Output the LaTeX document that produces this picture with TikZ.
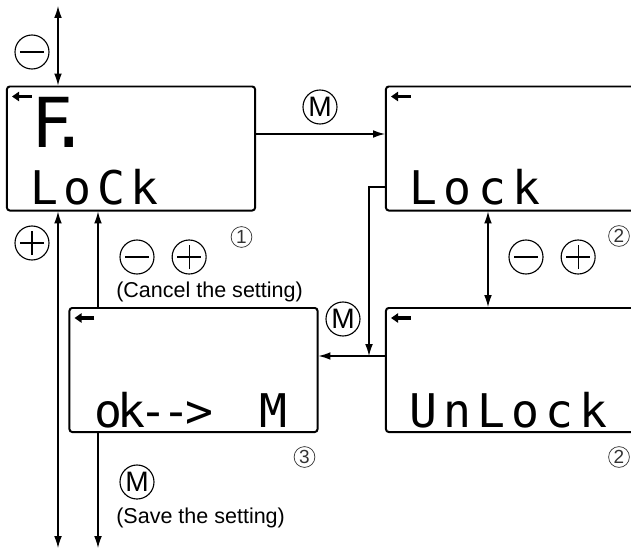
\documentclass[tikz,border=0pt]{standalone}
\usepackage{fontspec}
\setmainfont{Liberation Sans}
\newfontfamily\lcdfont{DejaVu Sans Mono}
\usetikzlibrary{arrows.meta, positioning, calc}
\newcommand{\spaced}[2]{{\addfontfeatures{LetterSpace=#1}#2}}
\tikzset{
    lcd/.style={
        draw,
        line width=1.4pt,
        rounded corners=2pt,
        minimum width=6.2cm,
        minimum height=3.1cm,
        inner sep=0pt
    },
    widelcd/.style={lcd, minimum width=6.5cm},
    line/.style={-{Latex[length=8.5pt, width=5.5pt]}, line width=0.9pt},
    twoway/.style={{Latex[length=8.5pt, width=5.5pt]}-{Latex[length=8.5pt, width=5.5pt]}, line width=0.9pt},
    btn/.style={draw, circle, line width=0.8pt, minimum size=0.85cm, inner sep=0pt},
    minusbtn/.style={btn, path picture={
        \draw[line width=0.8pt] ([xshift=-0.3cm]path picture bounding box.center) -- ([xshift=0.3cm]path picture bounding box.center);}},
    plusbtn/.style={btn, path picture={
        \draw[line width=0.8pt] ([xshift=-0.3cm]path picture bounding box.center) -- ([xshift=0.3cm]path picture bounding box.center);
        \draw[line width=0.8pt] ([yshift=-0.3cm]path picture bounding box.center) -- ([yshift=0.3cm]path picture bounding box.center);}},
    mbtn/.style={btn, font=\fontsize{20}{20}\selectfont},
    seg/.style={font=\lcdfont\fontsize{33}{33}\selectfont, inner sep=0pt, anchor=base west},
    bigseg/.style={seg, font=\lcdfont\fontsize{49}{49}\selectfont},
    icon/.style={line width=2.5pt, -{Triangle[length=5pt, width=6.5pt]}},
    circnum/.style={draw, circle, line width=0.5pt, minimum size=0.52cm, inner sep=0pt,
        text=black!80, draw=black!80, font=\fontsize{13.5}{13.5}\selectfont},
    note/.style={font=\fontsize{15.3}{18}\selectfont, inner sep=0pt, anchor=west}
}
\begin{document}
\begin{tikzpicture}[x=0.025cm, y=-0.025cm]
\useasboundingbox (0,0) rectangle (631,552);
\clip (0,0) rectangle (631,552);

% displays
\node[lcd] (lockF) at (131,148.5) {};
\node[widelcd] (lock) at (516,148.5) {};
\node[widelcd] (unlock) at (516,370) {};
\node[lcd] (confirm) at (193.5,370) {};

% back icons
\foreach \d in {lockF, lock, unlock, confirm}
    \draw[icon] ($(\d.north west)+(26,11)$) -- ($(\d.north west)+(6,11)$);

% display texts
\node[bigseg] (txtF) at (31,147) {\spaced{-35}{F.}};
\node[seg] (txtA) at (30,204) {\spaced{12}{LoCk}};
\node[seg] (txtB) at (409,204) {\spaced{14}{Lock}};
\node[seg] (txtC) at (409,427) {\spaced{13}{UnLock}};
\node[seg] (txtD) at (94,427) {\spaced{-11}{ok-{}-{}>~~M}};

% free ends
\coordinate (topend) at (58,6);
\coordinate (bottomL) at (58,548);
\coordinate (bottomR) at (98,548);
\coordinate (join) at (369,356);

% connectors
\draw[twoway] (topend) -- (topend |- lockF.north);
\draw[line] ([yshift=0.3625cm]lockF.east) -- ([yshift=0.3625cm]lock.west);
\draw[line] ([yshift=-0.9625cm]lock.west) -| (join);
\draw[line] ([yshift=0.35cm]unlock.west) -- ([yshift=0.35cm]confirm.east);
\draw[twoway] ([xshift=-0.7cm]lock.south) -- ([xshift=-0.7cm]unlock.north);
\draw[twoway] (bottomL |- lockF.south) -- (bottomL);
\draw[line] (bottomR |- confirm.north) -- (bottomR |- lockF.south);
\draw[line] (bottomR |- confirm.south) -- (bottomR);

% keys
\node[minusbtn] (minusA) at (32,52) {};
\node[plusbtn] (plusA) at (32,243) {};
\node[mbtn] (modeA) at (320,107) {M};
\node[minusbtn] (minusB) at (137,257) {};
\node[plusbtn, right=0.425cm of minusB] (plusB) {};
\node[minusbtn] (minusC) at (526,257) {};
\node[plusbtn, right=0.425cm of minusC] (plusC) {};
\node[mbtn] (modeB) at (343,319) {M};
\node[mbtn] (modeC) at (137,482) {M};

% notes
\node[note] (cancel) at (116,292) {(Cancel the setting)};
\node[note] (save) at (116,518) {(Save the setting)};

% step numbers
\node[circnum] (num1) at (241.5,237) {1};
\node[circnum] (num2a) at (619,236) {2};
\node[circnum] (num2b) at (619,457) {2};
\node[circnum] (num3) at (304.5,457) {3};
\end{tikzpicture}
\end{document}
